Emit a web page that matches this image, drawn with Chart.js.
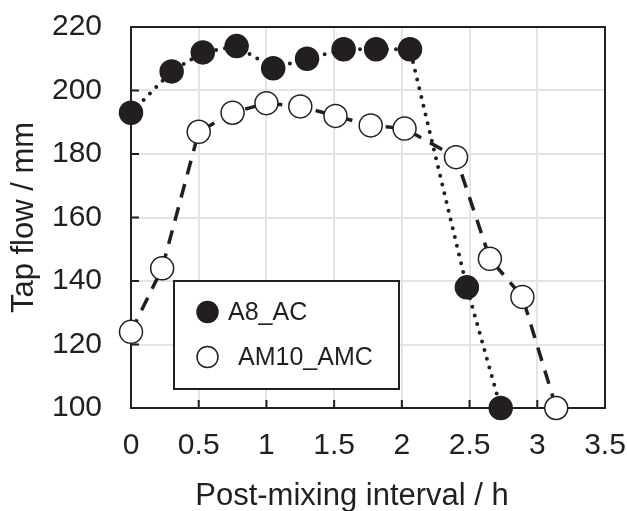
<!DOCTYPE html>
<html>
<head>
<meta charset="utf-8">
<title>Tap flow</title>
<script src="https://cdn.jsdelivr.net/npm/chart.js@4/dist/chart.umd.min.js"></script>
<style>
  html, body { margin: 0; padding: 0; background: #fff; }
  #wrap { width: 627px; height: 511px; }
</style>
</head>
<body>
<div id="wrap"><canvas id="flowChart" width="627" height="511"></canvas></div>
<script>
// Tap flow vs. post-mixing interval
const seriesNames = ['A8_AC', 'AM10_AMC'];
const a8Hours = [0, 0.30, 0.53, 0.78, 1.05, 1.30, 1.57, 1.81, 2.06, 2.48, 2.73];
const a8Flow = [193, 206, 212, 214, 207, 210, 213, 213, 213, 138, 100];
const am10Hours = [0, 0.23, 0.50, 0.75, 1.00, 1.25, 1.51, 1.77, 2.02, 2.40, 2.65, 2.89, 3.14];
const am10Flow = [124, 144, 187, 193, 196, 195, 192, 189, 188, 179, 147, 135, 100];
const xTickLabels = ['0', '0.5', '1', '1.5', '2', '2.5', '3', '3.5'];
const yTickLabels = ['100', '120', '140', '160', '180', '200', '220'];

const INK = '#231f20';
const FONT = '"Liberation Sans", Arial, Helvetica, sans-serif';

function toPoints(xs, ys) {
    return xs.map(function(x, i) { return { x: x, y: ys[i] }; });
}

// frame on all four sides plus short inward ticks on the left and bottom axes
const framePlugin = {
    id: 'frame',
    beforeDatasetsDraw(chart) {
        const ctx = chart.ctx;
        const area = chart.chartArea;
        const xs = chart.scales.x;
        const ys = chart.scales.y;
        ctx.save();
        ctx.strokeStyle = INK;
        ctx.lineWidth = 2;
        ctx.strokeRect(area.left, area.top, area.right - area.left, area.bottom - area.top);
        ctx.beginPath();
        xs.ticks.forEach(function(t) {
            const px = xs.getPixelForValue(t.value);
            ctx.moveTo(px, area.bottom);
            ctx.lineTo(px, area.bottom - 8);
        });
        ys.ticks.forEach(function(t) {
            const py = ys.getPixelForValue(t.value);
            ctx.moveTo(area.left, py);
            ctx.lineTo(area.left + 8, py);
        });
        ctx.stroke();
        ctx.restore();
    }
};

// boxed legend inside the plot, plus the x axis title
const boxLegendPlugin = {
    id: 'boxLegend',
    afterDatasetsDraw(chart) {
        const ctx = chart.ctx;
        ctx.save();
        ctx.fillStyle = '#fff';
        ctx.fillRect(174, 281, 225, 108);
        ctx.strokeStyle = INK;
        ctx.lineWidth = 2;
        ctx.strokeRect(174, 281, 225, 108);

        const rows = [
            { y: 312, textX: 228 },
            { y: 357, textX: 238 }
        ];
        chart.data.datasets.forEach(function(ds, i) {
            const row = rows[i];
            ctx.beginPath();
            ctx.arc(207.5, row.y, 10.5, 0, Math.PI * 2);
            ctx.fillStyle = ds.pointBackgroundColor;
            ctx.fill();
            ctx.lineWidth = 1.5;
            ctx.strokeStyle = INK;
            ctx.stroke();
            ctx.fillStyle = INK;
            ctx.font = '25px ' + FONT;
            ctx.textAlign = 'left';
            ctx.textBaseline = 'middle';
            ctx.fillText(ds.label, row.textX, row.y + 1);
        });

        ctx.font = '31px ' + FONT;
        ctx.textAlign = 'center';
        ctx.textBaseline = 'middle';
        ctx.fillStyle = INK;
        ctx.fillText('Post-mixing interval / h', 352, 496);
        ctx.restore();
    }
};

const ctx = document.getElementById('flowChart').getContext('2d');
const flowChart = new Chart(ctx, {
    type: 'scatter',
    data: {
        datasets: [
            {
                label: seriesNames[0],
                data: toPoints(a8Hours, a8Flow),
                showLine: true,
                borderColor: INK,
                borderWidth: 4,
                borderDash: [0, 9],
                borderCapStyle: 'round',
                pointRadius: 11.5,
                pointBorderWidth: 1.5,
                pointBackgroundColor: INK,
                pointBorderColor: INK,
                clip: false
            },
            {
                label: seriesNames[1],
                data: toPoints(am10Hours, am10Flow),
                showLine: true,
                borderColor: INK,
                borderWidth: 3.5,
                borderDash: [14, 10],
                pointRadius: 11.5,
                pointBorderWidth: 1.5,
                pointBackgroundColor: '#ffffff',
                pointBorderColor: INK,
                clip: false
            }
        ]
    },
    options: {
        responsive: false,
        animation: false,
        events: [],
        layout: {
            padding: { top: 27, right: 22, bottom: 0, left: 0 }
        },
        plugins: {
            legend: { display: false },
            tooltip: { enabled: false }
        },
        scales: {
            x: {
                type: 'linear',
                min: 0,
                max: 3.5,
                afterFit: function(scale) {
                    scale.height = 103;
                    scale.paddingLeft = 0;
                    scale.paddingRight = 0;
                },
                grid: { color: '#e4e4e4', lineWidth: 2, drawTicks: false },
                border: { display: false },
                ticks: {
                    stepSize: 0.5,
                    autoSkip: false,
                    maxRotation: 0,
                    padding: 20,
                    color: INK,
                    font: { family: FONT, size: 30 },
                    callback: function(value, index) { return xTickLabels[index]; }
                },
                title: { display: false }
            },
            y: {
                min: 100,
                max: 220,
                afterFit: function(scale) {
                    scale.width = 131;
                    scale.paddingTop = 0;
                    scale.paddingBottom = 0;
                },
                grid: { color: '#e4e4e4', lineWidth: 2, drawTicks: false },
                border: { display: false },
                ticks: {
                    stepSize: 20,
                    padding: 29,
                    color: INK,
                    font: { family: FONT, size: 30 },
                    callback: function(value, index) { return yTickLabels[index]; }
                },
                title: {
                    display: true,
                    text: 'Tap flow / mm',
                    color: INK,
                    font: { family: FONT, size: 31, lineHeight: 1 },
                    padding: { top: 8.5, bottom: 0 }
                }
            }
        }
    },
    plugins: [framePlugin, boxLegendPlugin]
});
</script>
</body>
</html>
